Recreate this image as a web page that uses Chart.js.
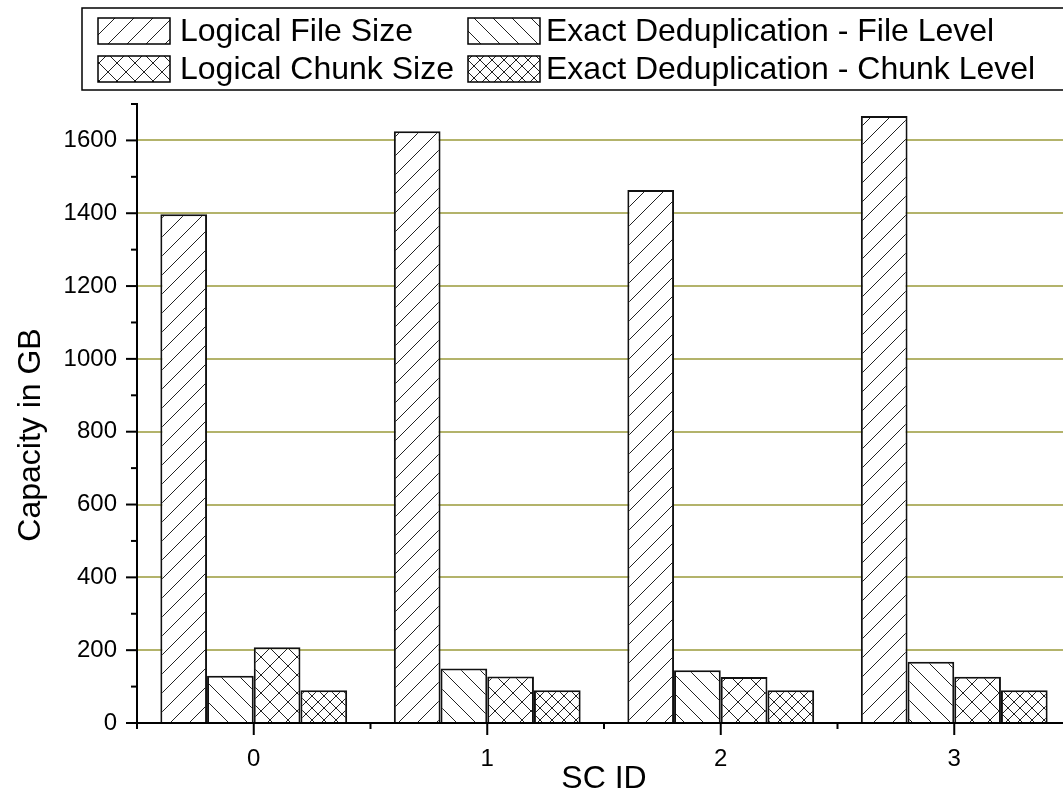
<!DOCTYPE html>
<html>

<head>
  <title>Capacity in GB per SC ID</title>
  <meta charset="UTF-8">
  <script src="https://cdn.jsdelivr.net/npm/chart.js@4.4.1/dist/chart.umd.min.js"></script>
  <style>
    html, body { margin: 0; padding: 0; background: #fff; overflow: hidden; }
  </style>
</head>

<body>
  <canvas id="myChart" width="1071" height="790"></canvas>
  <script>
    // data
    var categories = ['0', '1', '2', '3'];
    var logicalFileSize = [1397, 1625, 1464, 1667];
    var exactDedupFile = [130, 150, 145, 168];
    var logicalChunkSize = [208, 128, 126, 127];
    var exactDedupChunk = [90, 90, 90, 90];
    var seriesNames = ['Logical File Size', 'Exact Deduplication - File Level',
                       'Logical Chunk Size', 'Exact Deduplication - Chunk Level'];
    var yMax = 1700;
    var yStep = 100;
    var yLabelStep = 200;

    var FONT = '"Liberation Sans", Arial, sans-serif';
    var GRID = '#b3b36b';

    var ctx = document.getElementById('myChart').getContext('2d');

    // hatch fills: '/', '\', or 'x'
    function hatch(kind, p) {
      var c = document.createElement('canvas');
      c.width = p; c.height = p;
      var g = c.getContext('2d');
      g.fillStyle = '#fff';
      g.fillRect(0, 0, p, p);
      g.strokeStyle = '#222';
      g.lineWidth = 1;
      g.beginPath();
      for (var k = -1; k <= 1; k++) {
        if (kind == '/' || kind == 'x') { g.moveTo(k * p, p); g.lineTo(k * p + p, 0); }
        if (kind == '\\' || kind == 'x') { g.moveTo(k * p, 0); g.lineTo(k * p + p, p); }
      }
      g.stroke();
      return ctx.createPattern(c, 'repeat');
    }

    var fills = [hatch('/', 19), hatch('\\', 19), hatch('x', 18), hatch('x', 12)];
    var values = [logicalFileSize, exactDedupFile, logicalChunkSize, exactDedupChunk];

    var datasets = [];
    for (var i = 0; i < values.length; i++) {
      datasets.push({
        label: seriesNames[i],
        data: values[i],
        backgroundColor: fills[i],
        borderColor: '#111',
        borderWidth: 2,
        categoryPercentage: 0.8,
        barPercentage: 1.0
      });
    }

    // ticks, legend box and axis titles
    var decor = {
      id: 'decor',
      afterDraw: function(chart) {
        var c = chart.ctx, xs = chart.scales.x, ys = chart.scales.y;
        c.save();
        c.strokeStyle = '#000';
        c.lineWidth = 2;
        for (var v = 0; v <= yMax; v += yStep) {
          var py = ys.getPixelForValue(v);
          var len = v % yLabelStep === 0 ? 11 : 6;
          c.beginPath(); c.moveTo(xs.left - len, py); c.lineTo(xs.left, py); c.stroke();
        }
        for (var i = 0; i < categories.length; i++) {
          var px = xs.getPixelForValue(i);
          c.beginPath(); c.moveTo(px, ys.bottom); c.lineTo(px, ys.bottom + 12); c.stroke();
        }
        for (var j = 0; j <= categories.length; j++) {
          var pm = xs.getPixelForValue(j - 0.5);
          c.beginPath(); c.moveTo(pm, ys.bottom); c.lineTo(pm, ys.bottom + 6); c.stroke();
        }

        // legend
        c.lineWidth = 1.5;
        c.strokeStyle = '#000';
        c.strokeRect(82, 8, chart.width, 82);
        var cols = [98, 468], rows = [31, 69], textX = [180, 546];
        c.font = '32px ' + FONT;
        c.textBaseline = 'middle';
        c.textAlign = 'left';
        for (var k = 0; k < datasets.length; k++) {
          var col = k % 2 === 0 ? 0 : 1;
          var row = k < 2 ? 0 : 1;
          c.fillStyle = datasets[k].backgroundColor;
          c.fillRect(cols[col], rows[row] - 13, 72, 26);
          c.strokeRect(cols[col], rows[row] - 13, 72, 26);
          c.fillStyle = '#000';
          c.fillText(datasets[k].label, textX[col], rows[row] + 1);
        }

        // axis titles
        c.textAlign = 'center';
        c.textBaseline = 'alphabetic';
        c.fillText('SC ID', (xs.left + xs.right) / 2, 788);
        c.translate(40, 435);
        c.rotate(-Math.PI / 2);
        c.fillText('Capacity in GB', 0, 0);
        c.restore();
      }
    };

    var chart = new Chart(ctx, {
      type: 'bar',
      data: {
        labels: categories,
        datasets: datasets
      },
      plugins: [decor],
      options: {
        responsive: false,
        animation: false,
        layout: { padding: { top: 104, left: 0, right: 0, bottom: 0 } },
        plugins: {
          legend: { display: false },
          tooltip: { enabled: false }
        },
        scales: {
          x: {
            afterFit: function(scale) { scale.height = 67; },
            grid: { display: false, drawTicks: false },
            border: { display: true, color: '#000', width: 2 },
            ticks: { color: '#000', padding: 22, font: { family: FONT, size: 24 } }
          },
          y: {
            min: 0,
            max: yMax,
            afterFit: function(scale) { scale.width = 137; },
            grid: {
              drawTicks: false,
              lineWidth: 2,
              color: function(c) {
                var v = c.tick ? c.tick.value : 0;
                return (v > 0 && v < yMax && v % yLabelStep === 0) ? GRID : 'rgba(0,0,0,0)';
              }
            },
            border: { display: true, color: '#000', width: 2 },
            ticks: {
              stepSize: yStep,
              autoSkip: false,
              color: '#000',
              padding: 20,
              font: { family: FONT, size: 24 },
              callback: function(v) { return v % yLabelStep === 0 ? v : ''; }
            }
          }
        }
      }
    });
  </script>
</body>

</html>
